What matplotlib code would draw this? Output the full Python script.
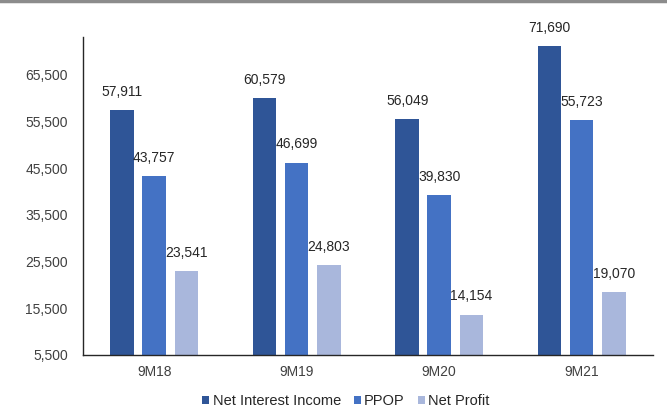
import numpy as np
import matplotlib.pyplot as plt
from matplotlib.lines import Line2D

plt.rcParams['font.family'] = ['Liberation Sans', 'DejaVu Sans']

periods = ['9M18', '9M19', '9M20', '9M21']
nii = [57911, 60579, 56049, 71690]
ppop = [43757, 46699, 39830, 55723]
net_profit = [23541, 24803, 14154, 19070]
yticks = [5500, 15500, 25500, 35500, 45500, 55500, 65500]

series = [('Net Interest Income', nii, '#2F5597'),
          ('PPOP', ppop, '#4472C4'),
          ('Net Profit', net_profit, '#A9B7DC')]

fig = plt.figure(figsize=(6.67, 4.11), dpi=100, facecolor='w')
ax = fig.add_axes([0.1244, 0.1363, 0.8546, 0.7737])

x = np.arange(len(periods))
w = 0.165
step = 0.225
for i, (name, vals, col) in enumerate(series):
    bars = ax.bar(x + (i - 1) * step, vals, width=w, color=col, label=name)
    for b, v in zip(bars, vals):
        ax.annotate(f'{v:,}', (b.get_x() + b.get_width() / 2, v),
                    xytext=(0, 8), textcoords='offset points',
                    ha='center', va='bottom', fontsize=10, color='#262626')

ax.set_ylim(5500, 73600)
ax.set_xlim(-0.5, 3.5)
ax.set_yticks(yticks)
ax.set_yticklabels([f'{t:,}' for t in yticks])
ax.set_xticks(x)
ax.set_xticklabels(periods)
ax.tick_params(axis='both', length=0, labelsize=10, labelcolor='#404040')
ax.tick_params(axis='y', pad=11)
ax.tick_params(axis='x', pad=7)
for s in ['top', 'right']:
    ax.spines[s].set_visible(False)
for s in ['left', 'bottom']:
    ax.spines[s].set_color('#262626')
    ax.spines[s].set_linewidth(1.0)

ax.legend(loc='center', bbox_to_anchor=(346 / 667, 1 - 401 / 411),
          bbox_transform=fig.transFigure, ncol=3, frameon=False,
          fontsize=10.5, handlelength=0.45, handleheight=0.45, handletextpad=0.25,
          columnspacing=0.9, labelcolor='#262626', borderpad=0)

fig.add_artist(Line2D([0, 1], [0.9975, 0.9975], color='#8C8C8C', linewidth=2.5,
                      transform=fig.transFigure))

fig.savefig('out.png', dpi=100)
